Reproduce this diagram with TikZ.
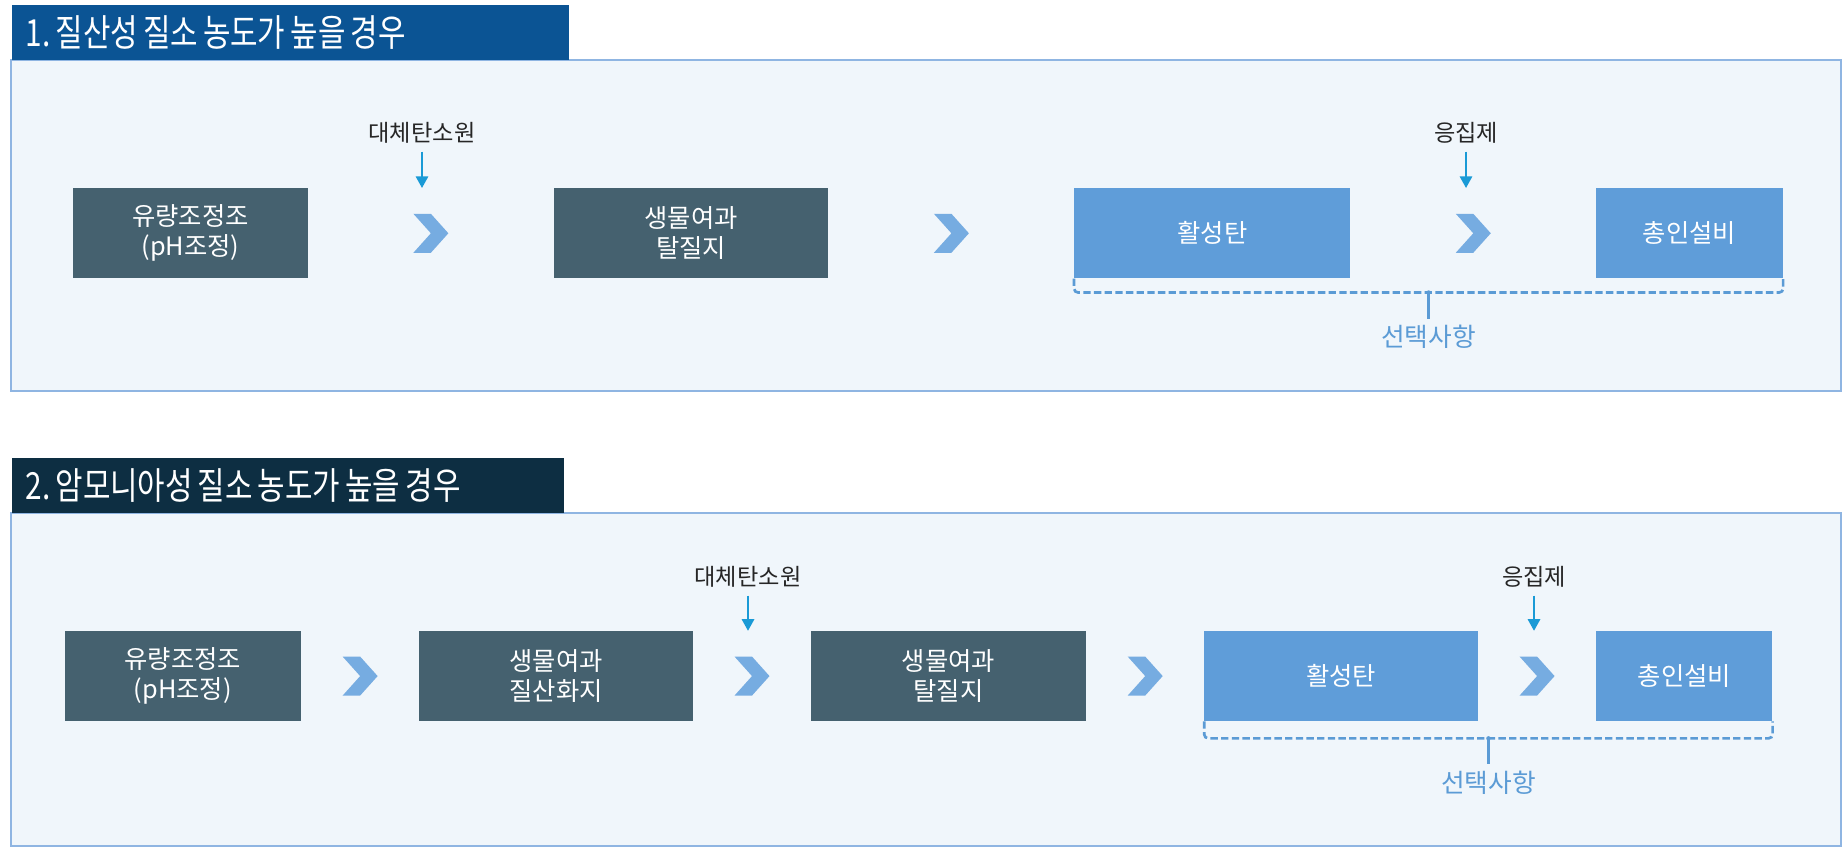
\documentclass[tikz,border=0pt]{standalone}
\usepackage{fontspec}
\newfontfamily\krfont{Noto Sans CJK KR}
\newfontfamily\krtitle{Noto Sans CJK KR}[FakeStretch=0.8]
\newcommand\titlefont{\krtitle\fontsize{28}{32}\selectfont\frenchspacing\spaceskip=3.8pt\relax}
\usetikzlibrary{arrows.meta,positioning,calc}
\definecolor{titleblue}{HTML}{0B5494}
\definecolor{titlenavy}{HTML}{0D2E42}
\definecolor{panelfill}{HTML}{F0F6FB}
\definecolor{paneledge}{HTML}{8FB5E2}
\definecolor{slatebox}{HTML}{45616F}
\definecolor{skybox}{HTML}{5F9DD9}
\definecolor{chevblue}{HTML}{76ACE1}
\definecolor{feedblue}{HTML}{1A9AD6}
\definecolor{optblue}{HTML}{5B9BD5}
\tikzset{
	panel/.style={draw=paneledge, fill=panelfill, line width=0.8pt},
	titlebar/.style={rectangle, anchor=north west, minimum height=41.25pt, inner xsep=10pt,
		align=left, text=white},
	procbox/.style={rectangle, fill=slatebox, text=white, minimum height=67.5pt,
		align=center, font=\krfont\fontsize{19}{22.5}\selectfont, inner sep=0pt},
	optbox/.style={procbox, fill=skybox},
	feedlabel/.style={font=\krfont\fontsize{17.4}{20}\selectfont, text=black!85},
	feedarr/.style={draw=feedblue, line width=1.5pt, -{Triangle[length=8.7pt, width=9.2pt]}},
	optline/.style={draw=optblue, line width=2pt, dash pattern=on 5.5pt off 2.5pt, rounded corners=3pt},
	opttick/.style={draw=optblue, line width=2pt},
	optlabel/.style={font=\krfont\fontsize{19.3}{22}\selectfont, text=optblue},
	chev/.pic={\fill[chevblue] (-17.5,-19.5) -- (0,-19.5) -- (17.5,0) -- (0,19.5) -- (-17.5,19.5) -- (0,0) -- cycle;}
}
\begin{document}
\begin{tikzpicture}[x=0.75pt, y=-0.75pt]
\useasboundingbox (0,0) rectangle (1842,847);
% 1. nitrate case
\draw[panel] (11,60) rectangle (1841,391);
\node[titlebar, fill=titleblue, minimum width=417.75pt, text width=397.75pt] (t1) at (12,5) {\titlefont 1. 질산성 질소 농도가 높을 경우};
\node[procbox, minimum width=176pt, anchor=north west] (a1) at (73,188) {유량조정조\\(pH조정)};
\node[procbox, minimum width=206pt, right=184pt of a1] (b1) {생물여과\\탈질지};
\node[optbox, minimum width=207pt, right=184pt of b1] (c1) {활성탄};
\node[optbox, minimum width=140pt, right=184pt of c1] (d1) {총인설비};
\pic at ($(a1.east)!0.5!(b1.west)$) {chev};
\pic at ($(b1.east)!0.5!(c1.west)$) {chev};
\pic at ($(c1.east)!0.5!(d1.west)$) {chev};
\node[feedlabel] (s1) at (422,133) {대체탄소원};
\node[feedlabel] (g1) at (1466,133) {응집제};
\draw[feedarr] ([yshift=-14pt]s1.center) -- (s1.center |- a1.north);
\draw[feedarr] ([yshift=-14pt]g1.center) -- (g1.center |- d1.north);
\draw[optline] (c1.south west) -- ++(0,14) -| (d1.south east);
\coordinate (br1) at ($(c1.south west)!0.5!(d1.south east)+(0,14)$);
\draw[opttick] (br1) -- ++(0,26);
\fill[optblue] (br1) circle (2.2);
\node[optlabel] (o1) at ($(br1)+(0,44)$) {선택사항};

% 2. ammonia case
\draw[panel] (11,513) rectangle (1841,846);
\node[titlebar, fill=titlenavy, minimum width=414pt, text width=394pt] (t2) at (12,458) {\titlefont 2. 암모니아성 질소 농도가 높을 경우};
\node[procbox, minimum width=177pt, anchor=north west] (a2) at (64.6,630.8) {유량조정조\\(pH조정)};
\node[procbox, minimum width=205pt, right=88.5pt of a2] (b2) {생물여과\\질산화지};
\node[procbox, minimum width=206pt, right=88.5pt of b2] (c2) {생물여과\\탈질지};
\node[optbox, minimum width=205pt, right=88.5pt of c2] (d2) {활성탄};
\node[optbox, minimum width=132pt, right=88.5pt of d2] (e2) {총인설비};
\pic at ($(a2.east)!0.5!(b2.west)$) {chev};
\pic at ($(b2.east)!0.5!(c2.west)$) {chev};
\pic at ($(c2.east)!0.5!(d2.west)$) {chev};
\pic at ($(d2.east)!0.5!(e2.west)$) {chev};
\node[feedlabel] (s2) at (748,577) {대체탄소원};
\node[feedlabel] (g2) at (1534,577) {응집제};
\draw[feedarr] ([yshift=-14pt]s2.center) -- (s2.center |- c2.north);
\draw[feedarr] ([yshift=-14pt]g2.center) -- (g2.center |- e2.north);
\draw[optline] (d2.south west) -- ++(0,17) -| (e2.south east);
\coordinate (br2) at ($(d2.south west)!0.5!(e2.south east)+(0,17)$);
\draw[opttick] (br2) -- ++(0,26);
\fill[optblue] (br2) circle (2.2);
\node[optlabel] (o2) at ($(br2)+(0,44)$) {선택사항};
\end{tikzpicture}
\end{document}
